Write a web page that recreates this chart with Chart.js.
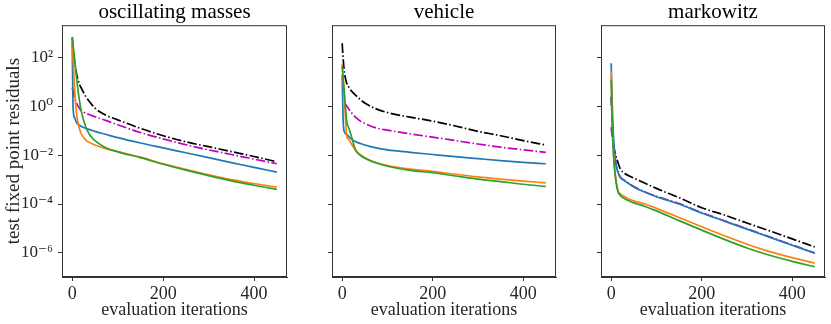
<!DOCTYPE html>
<html>
<head>
<meta charset="utf-8">
<script src="https://cdn.jsdelivr.net/npm/chart.js@4"></script>
<style>
  html, body { margin: 0; padding: 0; background: #fff; overflow: hidden; }
  #wrap { position: relative; width: 831px; height: 324px; }
  canvas { position: absolute; top: 0; }
</style>
</head>
<body>
<div id="wrap">
  <canvas id="c1" width="291" height="324" style="left:0px"></canvas>
  <canvas id="c2" width="238" height="324" style="left:322px"></canvas>
  <canvas id="c3" width="238" height="324" style="left:591px"></canvas>
</div>
<script>
// evaluation iterations shared by all panels
const iters = [0, 2, 5, 10, 15, 20, 30, 40, 50, 75, 100, 150, 200, 250, 300, 350, 400, 450];

const titles = ['oscillating masses', 'vehicle', 'markowitz'];
const xTicks = [0, 200, 400];
const yTicks = [1e-6, 1e-4, 1e-2, 1, 1e2];
const yTickLabels = ['10⁻⁶', '10⁻⁴', '10⁻²', '10⁰', '10²'];

// oscillating masses
const oscBlue = [3.98e2, 7.94e-1, 3.55e-1, 2.09e-1, 1.74e-1, 1.51e-1, 1.26e-1, 1.10e-1, 9.55e-2, 7.08e-2, 5.25e-2, 3.16e-2, 2.0e-2, 1.26e-2, 7.94e-3, 5.01e-3, 3.16e-3, 2.04e-3];
const oscOrange = [6.61e2, 7.94e1, 6.31, 4.47e-1, 1.41e-1, 7.41e-2, 4.17e-2, 3.16e-2, 2.63e-2, 1.82e-2, 1.41e-2, 8.32e-3, 4.47e-3, 2.63e-3, 1.58e-3, 1.0e-3, 6.92e-4, 4.90e-4];
const oscGreen = [7.08e2, 3.16e2, 1.0e2, 1.26e1, 2.24, 6.31e-1, 1.41e-1, 6.31e-2, 3.98e-2, 2.0e-2, 1.38e-2, 7.94e-3, 4.27e-3, 2.45e-3, 1.45e-3, 8.91e-4, 5.89e-4, 3.98e-4];
const oscMagenta = [5.89, 3.98, 2.24, 1.32, 8.91e-1, 6.76e-1, 5.25e-1, 4.47e-1, 3.80e-1, 2.63e-1, 1.78e-1, 8.51e-2, 4.68e-2, 2.69e-2, 1.66e-2, 1.07e-2, 6.92e-3, 4.47e-3];
const oscBlack = [6.61e2, 2.0e2, 7.08e1, 2.0e1, 8.91, 5.62, 2.51, 1.41, 8.51e-1, 4.27e-1, 2.82e-1, 1.26e-1, 6.31e-2, 3.55e-2, 2.24e-2, 1.41e-2, 8.91e-3, 5.37e-3];

// vehicle
const vehBlue = [2.0e1, 3.16e-1, 8.91e-2, 7.08e-2, 5.62e-2, 4.68e-2, 3.55e-2, 3.02e-2, 2.63e-2, 2.0e-2, 1.66e-2, 1.32e-2, 1.07e-2, 8.71e-3, 7.24e-3, 6.03e-3, 5.13e-3, 4.47e-3];
const vehOrange = [5.62e1, 1.45e1, 1.91, 6.31e-2, 4.37e-2, 3.02e-2, 1.58e-2, 1.05e-2, 7.94e-3, 5.01e-3, 3.80e-3, 2.69e-3, 2.19e-3, 1.66e-3, 1.29e-3, 1.05e-3, 8.71e-4, 7.41e-4];
const vehGreen = [4.47e1, 1.58e1, 3.31, 2.51e-1, 1.26e-1, 6.31e-2, 1.58e-2, 1.0e-2, 7.59e-3, 4.79e-3, 3.55e-3, 2.40e-3, 1.91e-3, 1.41e-3, 1.05e-3, 8.32e-4, 6.46e-4, 5.25e-4];
const vehMagenta = [null, null, 1.41, 1.05, 7.59e-1, 5.62e-1, 3.55e-1, 2.51e-1, 2.0e-1, 1.32e-1, 1.07e-1, 7.59e-2, 5.50e-2, 3.98e-2, 2.88e-2, 2.14e-2, 1.66e-2, 1.32e-2];
const vehBlack = [3.89e2, 1.0e2, 2.51e1, 8.91, 6.03, 4.37, 2.82, 1.91, 1.38, 7.94e-1, 5.62e-1, 3.63e-1, 2.51e-1, 1.58e-1, 9.55e-2, 6.31e-2, 3.98e-2, 2.63e-2];

// markowitz
const mkBlue = [5.89e1, 2.0, 6.31e-2, 5.01e-3, 2.0e-3, 1.26e-3, 8.91e-4, 6.61e-4, 5.01e-4, 3.02e-4, 2.0e-4, 1.0e-4, 4.27e-5, 2.0e-5, 9.33e-6, 4.37e-6, 2.04e-6, 9.55e-7];
const mkOrange = [2.69e1, 5.01e-1, 1.26e-2, 1.26e-3, 3.55e-4, 2.63e-4, 2.0e-4, 1.58e-4, 1.35e-4, 1.0e-4, 6.61e-5, 2.82e-5, 1.17e-5, 5.01e-6, 2.24e-6, 1.12e-6, 6.31e-7, 3.72e-7];
const mkGreen = [1.26e1, 3.98e-1, 1.12e-2, 1.0e-3, 3.16e-4, 2.24e-4, 1.66e-4, 1.32e-4, 1.12e-4, 7.94e-5, 5.25e-5, 2.09e-5, 8.51e-6, 3.55e-6, 1.58e-6, 7.94e-7, 4.47e-7, 2.69e-7];
const mkMagenta = [1.41e-1, 6.31e-2, 2.51e-2, 5.01e-3, 2.05e-3, 1.29e-3, 9.22e-4, 6.84e-4, 5.19e-4, 3.13e-4, 2.07e-4, 1.04e-4, 4.42e-5, 2.07e-5, 9.66e-6, 4.52e-6, 2.11e-6, 9.88e-7];
const mkBlack = [2.51, 2.51e-1, 3.16e-2, 1.0e-2, 5.01e-3, 2.82e-3, 1.78e-3, 1.41e-3, 1.15e-3, 7.08e-4, 4.37e-4, 1.82e-4, 7.08e-5, 3.55e-5, 1.66e-5, 7.94e-6, 3.72e-6, 1.74e-6];

const panelSeries = [
  [oscBlue, oscOrange, oscGreen, oscMagenta, oscBlack],
  [vehBlue, vehOrange, vehGreen, vehMagenta, vehBlack],
  [mkBlue, mkOrange, mkGreen, mkMagenta, mkBlack]
];

const lineColors = ['#1f77b4', '#ff7f0e', '#2ca02c', '#bf00bf', '#000000'];
// bigger order = drawn earlier (underneath)
const drawOrder = [3, 2, 1, 5, 4];
const dashDot = [9.6, 2.4, 1.5, 2.4];

Chart.defaults.font.family = "'Liberation Serif', 'DejaVu Serif', serif";
Chart.defaults.color = '#262626';

// draws the full box round the plot area
const frame = {
  id: 'frame',
  afterDraw(chart) {
    const a = chart.chartArea;
    const ctx = chart.ctx;
    ctx.save();
    ctx.strokeStyle = '#333';
    ctx.lineWidth = 1;
    ctx.strokeRect(a.left + 0.5, a.top + 0.5, a.right - a.left - 1, a.bottom - a.top - 1);
    ctx.restore();
  }
};

function makePanel(id, idx, yWidth) {
  const series = panelSeries[idx];
  const datasets = series.map((vals, k) => ({
    data: iters.map((x, i) => ({x: x, y: vals[i]})).filter(p => p.y !== null),
    borderColor: lineColors[k],
    borderWidth: 1.7,
    borderDash: k >= 3 ? dashDot : [],
    pointRadius: 0,
    fill: false,
    cubicInterpolationMode: 'monotone',
    order: drawOrder[k]
  }));

  new Chart(document.getElementById(id).getContext('2d'), {
    type: 'line',
    data: {datasets: datasets},
    plugins: [frame],
    options: {
      responsive: false,
      animation: false,
      layout: {padding: {left: 0, right: 4, top: 0, bottom: 0}},
      plugins: {
        legend: {display: false},
        tooltip: {enabled: false},
        title: {
          display: true,
          fullSize: false,
          text: titles[idx],
          color: '#000',
          font: {size: 21, weight: 'normal'},
          padding: {top: 0, bottom: 0}
        }
      },
      scales: {
        x: {
          type: 'linear',
          min: -22.5,
          max: 472.5,
          afterBuildTicks: s => { s.ticks = xTicks.map(v => ({value: v})); },
          afterFit: s => { s.height = 47; },
          ticks: {font: {size: 18}, color: '#262626', padding: 2, maxRotation: 0},
          grid: {drawOnChartArea: false, drawTicks: true, tickLength: 4, color: '#333'},
          border: {display: true, color: '#333'},
          title: {display: true, text: 'evaluation iterations', font: {size: 18}, color: '#262626', padding: {top: 0, bottom: 3}}
        },
        y: {
          type: 'logarithmic',
          min: 1.02e-7,
          max: 2.14e3,
          afterBuildTicks: s => { s.ticks = yTicks.map(v => ({value: v})); },
          afterFit: s => { s.width = yWidth; },
          ticks: {
            display: idx === 0,
            font: {size: 17},
            color: '#262626',
            padding: 5,
            callback: v => yTickLabels[yTicks.indexOf(v)]
          },
          grid: {drawOnChartArea: false, drawTicks: true, tickLength: 4, color: '#333'},
          border: {display: true, color: '#333'},
          title: {display: idx === 0, text: 'test fixed point residuals', font: {size: 19}, color: '#262626', padding: {top: 3, bottom: 0}}
        }
      }
    }
  });
}

makePanel('c1', 0, 62);
makePanel('c2', 1, 10);
makePanel('c3', 2, 10);
</script>
</body>
</html>
